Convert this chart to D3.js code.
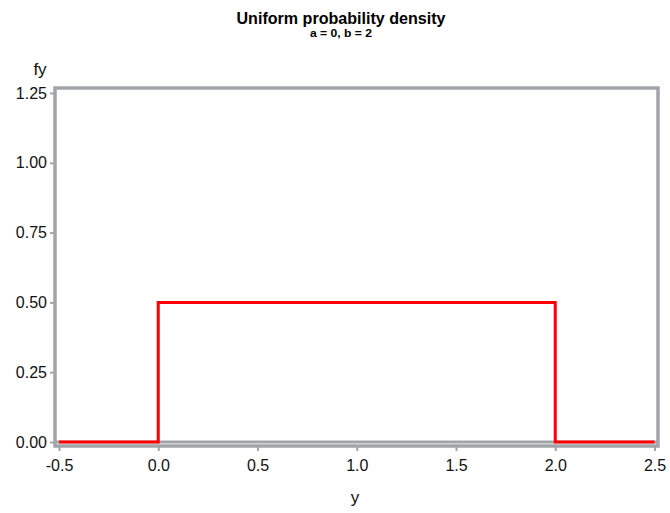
<!DOCTYPE html>
<html><head><meta charset="utf-8">
<script src="https://cdn.jsdelivr.net/npm/d3@7"></script>
<style>body{margin:0;background:#fff}svg{display:block}</style>
</head><body>
<svg id="c" width="670" height="513"></svg>
<script>
const yValues = [-0.5, 0, 0, 2, 2, 2.5];
const fyValues = [0, 0, 0.5, 0.5, 0, 0];
const xTicks = [-0.5, 0.0, 0.5, 1.0, 1.5, 2.0, 2.5];
const yTicks = [0.00, 0.25, 0.50, 0.75, 1.00, 1.25];
const title = "Uniform probability density";
const subtitle = "a = 0, b = 2";
const xLabel = "y", yLabel = "fy";

const svg = d3.select("#c");
const frame = {l:55, t:88, r:658, b:446};
const x = d3.scaleLinear().domain([-0.5, 2.5]).range([59, 654.5]);
const y = d3.scaleLinear().domain([0, 1.25]).range([442, 93]);
const gray = "#A1A5A9";
const font = "'Liberation Sans', Arial, sans-serif";

svg.append("text").attr("x",341).attr("y",24).attr("text-anchor","middle")
  .attr("font-family",font).attr("font-weight","bold").attr("font-size",16)
  .attr("textLength",209).attr("lengthAdjust","spacingAndGlyphs").text(title);
svg.append("text").attr("x",341).attr("y",37).attr("text-anchor","middle")
  .attr("font-family",font).attr("font-weight","bold").attr("font-size",11)
  .attr("textLength",62).attr("lengthAdjust","spacingAndGlyphs").text(subtitle);

// axes
const xAxis = svg.append("g").attr("transform",`translate(0,${frame.b})`)
  .call(d3.axisBottom(x).tickValues(xTicks).tickFormat(d3.format(".1f")).tickSize(5).tickSizeOuter(0));
const yAxis = svg.append("g").attr("transform",`translate(${frame.l},0)`)
  .call(d3.axisLeft(y).tickValues(yTicks).tickFormat(d3.format(".2f")).tickSize(5).tickSizeOuter(0));
[xAxis,yAxis].forEach(g=>{
  g.select(".domain").remove();
  g.selectAll(".tick line").attr("stroke",gray).attr("stroke-width",2);
  g.selectAll(".tick text").attr("font-family",font).attr("font-size",16).attr("fill","#111");
});
xAxis.selectAll(".tick text").attr("dy","0.71em").attr("y",14);
xAxis.selectAll(".tick text").text(d=> d<0 ? "-" + Math.abs(d).toFixed(1) : d.toFixed(1));
yAxis.selectAll(".tick text").attr("x",-8);

// reference line at 0
svg.append("line").attr("x1",frame.l).attr("x2",frame.r).attr("y1",y(0)).attr("y2",y(0))
  .attr("stroke",gray).attr("stroke-width",3);

// data line
const pts = yValues.map((v,i)=>[v,fyValues[i]]);
svg.append("path").datum(pts)
  .attr("d", d3.line().x(d=>x(d[0])).y(d=>y(d[1])))
  .attr("fill","none").attr("stroke","#FF0000").attr("stroke-width",3);

// frame
svg.append("rect").attr("x",frame.l).attr("y",frame.t)
  .attr("width",frame.r-frame.l).attr("height",frame.b-frame.t)
  .attr("fill","none").attr("stroke",gray).attr("stroke-width",3.5);

svg.append("text").attr("x",355).attr("y",503).attr("text-anchor","middle")
  .attr("font-family",font).attr("font-size",17).attr("fill","#111").text(xLabel);
svg.append("text").attr("x",40).attr("y",75).attr("text-anchor","middle")
  .attr("font-family",font).attr("font-size",17).attr("fill","#111").text(yLabel);
</script>
</body></html>
